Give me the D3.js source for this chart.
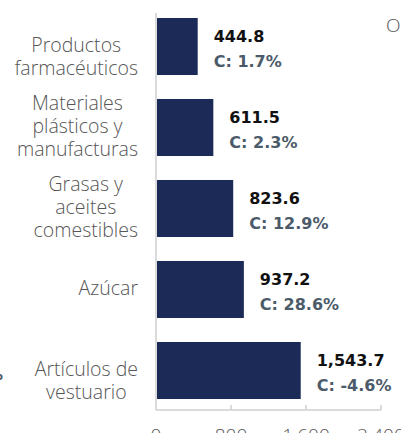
<!DOCTYPE html>
<html>
<head>
<meta charset="utf-8">
<script src="https://cdn.jsdelivr.net/npm/d3@7"></script>
<style>
  html, body { margin: 0; padding: 0; background: #fff; overflow: hidden; }
  svg { display: block; }
</style>
</head>
<body>
<div id="chart"></div>
<script>
const categories = [
  'Productos\nfarmacéuticos',
  'Materiales\nplásticos y\nmanufacturas',
  'Grasas y\naceites\ncomestibles',
  'Azúcar',
  'Artículos de\nvestuario'
];
const values = [444.8, 611.5, 823.6, 937.2, 1543.7];
const changes = [1.7, 2.3, 12.9, 28.6, -4.6];
const xTicks = [0, 800, 1600, 2400];

const width = 401, height = 433;
const BAR_COLOR = '#1c2a57';
const AXIS_COLOR = '#cfcfcf';
const LABEL_COLOR = '#565656';
const CHANGE_COLOR = '#4b5b69';

const svg = d3.select('#chart').append('svg')
  .attr('width', width)
  .attr('height', height);

const x = d3.scaleLinear().domain([0, 2400]).range([156, 381]);
const y = d3.scaleBand()
  .domain(categories)
  .range([6, 411])
  .paddingInner(0.296)
  .paddingOuter(0.148);

// plain hyphen for negatives, like the source
const locale = d3.formatLocale({ decimal: '.', thousands: ',', grouping: [3], currency: ['$', ''], minus: '-' });

// axis lines
svg.append('line')
  .attr('x1', x(0)).attr('x2', x(0))
  .attr('y1', 13).attr('y2', 410)
  .attr('stroke', AXIS_COLOR).attr('stroke-width', 1.5);
svg.append('line')
  .attr('x1', x(0)).attr('x2', x(2400))
  .attr('y1', 410).attr('y2', 410)
  .attr('stroke', AXIS_COLOR).attr('stroke-width', 1.5);
svg.append('g').selectAll('line')
  .data(xTicks.slice(1))
  .enter().append('line')
  .attr('x1', d => x(d)).attr('x2', d => x(d))
  .attr('y1', 405).attr('y2', 410)
  .attr('stroke', AXIS_COLOR).attr('stroke-width', 1.5);

svg.append('g').selectAll('text')
  .data(xTicks)
  .enter().append('text')
  .attr('x', d => x(d))
  .attr('y', 442)
  .attr('text-anchor', 'middle')
  .attr('font-family', '"Open Sans", sans-serif')
  .attr('font-weight', 300)
  .attr('font-size', 19)
  .attr('fill', LABEL_COLOR)
  .text(d => locale.format(',')(d));

// bars
svg.append('g').selectAll('rect')
  .data(values)
  .enter().append('rect')
  .attr('x', x(0) + 1)
  .attr('y', (d, i) => y(categories[i]))
  .attr('width', d => x(d) - x(0) - 1)
  .attr('height', y.bandwidth())
  .attr('fill', BAR_COLOR);

// value + change labels
const fmtVal = locale.format(',.1f');
const fmtPct = locale.format('.1f');
const valG = svg.append('g')
  .attr('font-family', '"DejaVu Sans", sans-serif')
  .attr('font-weight', 'bold')
  .attr('font-size', 16);

values.forEach((v, i) => {
  const cy = y(categories[i]) + y.bandwidth() / 2;
  valG.append('text')
    .attr('x', x(v) + 16)
    .attr('y', cy - 5)
    .attr('fill', '#111')
    .text(fmtVal(v));
  valG.append('text')
    .attr('x', x(v) + 16)
    .attr('y', cy + 20)
    .attr('fill', CHANGE_COLOR)
    .text('C: ' + fmtPct(changes[i]) + '%');
});

// category labels: lines centered, block right-aligned
const lineH = 23;
const labelRight = 138;
categories.forEach(cat => {
  const lines = cat.split('\n');
  const cy = y(cat) + y.bandwidth() / 2;
  const g = svg.append('g')
    .attr('font-family', '"Open Sans", sans-serif')
    .attr('font-weight', 300)
    .attr('font-size', 19.5)
    .attr('fill', LABEL_COLOR);
  const texts = lines.map((ln, j) => g.append('text')
    .attr('y', cy + 5 - Math.floor((lines.length - 1) / 2) * lineH + j * lineH)
    .attr('text-anchor', 'middle')
    .text(ln));
  const maxW = d3.max(texts, t => t.node().getComputedTextLength());
  texts.forEach(t => t.attr('x', labelRight - maxW / 2));
});

// fragments of neighbouring elements cut by the frame
svg.append('text')
  .attr('x', 386).attr('y', 32)
  .attr('font-family', '"Open Sans", sans-serif')
  .attr('font-weight', 300)
  .attr('font-size', 19)
  .attr('fill', LABEL_COLOR)
  .text('O');
svg.append('text')
  .attr('x', 3).attr('y', 380)
  .attr('text-anchor', 'end')
  .attr('font-family', '"DejaVu Sans", sans-serif')
  .attr('font-weight', 'bold')
  .attr('font-size', 16)
  .attr('fill', CHANGE_COLOR)
  .text('%');
</script>
</body>
</html>
